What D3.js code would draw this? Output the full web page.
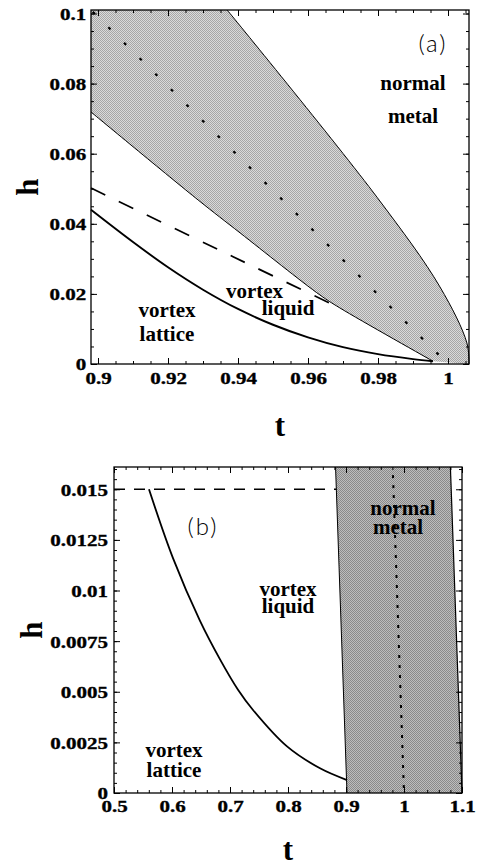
<!DOCTYPE html>
<html>
<head>
<meta charset="utf-8">
<script src="https://cdn.jsdelivr.net/npm/d3@7"></script>
<style>
    body { margin: 0; background: #fff; }
    .ticklabel { font-family: "Liberation Serif", "Times New Roman", serif; font-weight: bold; font-size: 17.5px; fill: #000; stroke: #000; stroke-width: 0.35px; }
    .region { font-family: "Liberation Serif", "Times New Roman", serif; font-weight: bold; font-size: 21px; fill: #000; }
    .axislabel { font-family: "Liberation Serif", "Times New Roman", serif; font-weight: bold; font-size: 31px; fill: #000; }
    .panel { font-family: "Lato", "DejaVu Sans", sans-serif; font-weight: 300; font-size: 24px; letter-spacing: 2px; fill: #000; }
</style>
</head>
<body>
<div id="chart"></div>
<script>
// ---- panel (a) data ----
let aXTicks = [0.9, 0.92, 0.94, 0.96, 0.98, 1];
let aXTickLabels = ['0.9', '0.92', '0.94', '0.96', '0.98', '1'];
let aYTicks = [0, 0.02, 0.04, 0.06, 0.08, 0.1];
let aYTickLabels = ['0', '0.02', '0.04', '0.06', '0.08', '0.1'];

let aMelting = [[0.898, 0.0440], [0.91, 0.0348], [0.92, 0.0276], [0.93, 0.0212], [0.94, 0.0157],
    [0.95, 0.0112], [0.96, 0.0076], [0.97, 0.0048], [0.98, 0.0028], [0.99, 0.0014], [0.9957, 0.0008]];
let aDashed = [[0.898, 0.0502], [0.9386, 0.0306], [0.9691, 0.0160]];
let aDotted = [[0.8985, 0.1005], [1.0, 0.0]];
let aShadeLower = [[0.898, 0.0719], [0.9286, 0.0468], [0.9406, 0.0374], [0.9634, 0.0197], [0.9691, 0.0160], [0.9957, 0.0008]];
let aShadeUpper = [[0.9369, 0.101], [0.9797, 0.0476], [0.9977, 0.0220], [1.0054, 0.0060], [1.006, 0]];

let aLabels = [
    {text: 'normal', t: 0.990, h: 0.0782},
    {text: 'metal', t: 0.990, h: 0.0688},
    {text: 'vortex', t: 0.9197, h: 0.0134},
    {text: 'lattice', t: 0.9197, h: 0.0066},
    {text: 'vortex', t: 0.9447, h: 0.0188},
    {text: 'liquid', t: 0.9543, h: 0.0140}
];

// ---- panel (b) data ----
let bXTicks = [0.5, 0.6, 0.7, 0.8, 0.9, 1, 1.1];
let bXTickLabels = ['0.5', '0.6', '0.7', '0.8', '0.9', '1', '1.1'];
let bYTicks = [0, 0.0025, 0.005, 0.0075, 0.01, 0.0125, 0.015];
let bYTickLabels = ['0', '0.0025', '0.005', '0.0075', '0.01', '0.0125', '0.015'];

let bMelting = [[0.5603, 0.0150], [0.6017, 0.0116], [0.6483, 0.0085], [0.6828, 0.0066], [0.7138, 0.0051],
    [0.7397, 0.0041], [0.7983, 0.0023], [0.8552, 0.00122], [0.9017, 0.00064]];
let bDashed = [[0.5, 0.015], [0.8833, 0.015]];
let bDotted = [[0.981, 0.0157], [1.0, 0]];
let bShadeLeft = [[0.9017, 0], [0.882, 0.0161]];
let bShadeRight = [[1.1, 0], [1.080, 0.0161]];

let bLabels = [
    {text: 'normal', t: 0.9983, h: 0.01373},
    {text: 'metal', t: 0.9897, h: 0.01279},
    {text: 'vortex', t: 0.80, h: 0.00973},
    {text: 'liquid', t: 0.80, h: 0.00889},
    {text: 'vortex', t: 0.6034, h: 0.00178},
    {text: 'lattice', t: 0.6034, h: 0.00079}
];

// ---- layout ----
let panelA = {left: 91, right: 469, top: 10, bottom: 364, xDomain: [0.898, 1.006], yDomain: [0, 0.101],
    xMinorStep: 0.005, yMinorStep: 0.005, xPad: 8, yPad: 4, hGap: 53, tGap: 72,
    name: '(a)', nameAt: [0.9957, 0.089]};
let panelB = {left: 114, right: 462, top: 467, bottom: 793, xDomain: [0.5, 1.1], yDomain: [0, 0.0161],
    xMinorStep: 0.02, yMinorStep: 0.0005, xPad: 7, yPad: 5, hGap: 72, tGap: 67,
    name: '(b)', nameAt: [0.6534, 0.01274]};

let svg = d3.select('#chart').append('svg')
    .attr('width', 479)
    .attr('height', 867);

let defs = svg.append('defs');

function addChecker(id, light, dark) {
    let p = defs.append('pattern')
        .attr('id', id)
        .attr('width', 2)
        .attr('height', 2)
        .attr('patternUnits', 'userSpaceOnUse');
    p.append('rect').attr('width', 2).attr('height', 2).attr('fill', light);
    p.append('rect').attr('width', 1).attr('height', 1).attr('fill', dark);
    p.append('rect').attr('x', 1).attr('y', 1).attr('width', 1).attr('height', 1).attr('fill', dark);
}
addChecker('shadeA', '#dadada', '#a6a6a6');
addChecker('shadeB', '#bdbdbd', '#8a8a8a');

function scales(p) {
    let x = d3.scaleLinear().domain(p.xDomain).range([p.left, p.right]);
    let y = d3.scaleLinear().domain(p.yDomain).range([p.bottom, p.top]);
    return {x: x, y: y};
}

function drawAxes(p, s, xTicks, xLabels, yTicks, yLabels) {
    let x = s.x, y = s.y;
    let xMinor = d3.range(p.xDomain[0] - p.xDomain[0] % p.xMinorStep, p.xDomain[1] + 1e-9, p.xMinorStep)
        .filter(function(d) { return d >= p.xDomain[0] - 1e-9; });
    let yMinor = d3.range(0, p.yDomain[1] + 1e-9, p.yMinorStep);

    let g = svg.append('g');

    // minor ticks on all four sides
    g.append('g').attr('transform', 'translate(0,' + p.bottom + ')')
        .call(d3.axisBottom(x).tickValues(xMinor).tickSize(-3).tickFormat(''));
    g.append('g').attr('transform', 'translate(0,' + p.top + ')')
        .call(d3.axisTop(x).tickValues(xMinor).tickSize(-3).tickFormat(''));
    g.append('g').attr('transform', 'translate(' + p.left + ',0)')
        .call(d3.axisLeft(y).tickValues(yMinor).tickSize(-3).tickFormat(''));
    g.append('g').attr('transform', 'translate(' + p.right + ',0)')
        .call(d3.axisRight(y).tickValues(yMinor).tickSize(-3).tickFormat(''));

    // major ticks
    let bottom = g.append('g').attr('transform', 'translate(0,' + p.bottom + ')')
        .call(d3.axisBottom(x).tickValues(xTicks).tickSize(-6).tickPadding(p.xPad)
            .tickFormat(function(d, i) { return xLabels[i]; }));
    g.append('g').attr('transform', 'translate(0,' + p.top + ')')
        .call(d3.axisTop(x).tickValues(xTicks).tickSize(-6).tickFormat(''));
    let left = g.append('g').attr('transform', 'translate(' + p.left + ',0)')
        .call(d3.axisLeft(y).tickValues(yTicks).tickSize(-6).tickPadding(p.yPad)
            .tickFormat(function(d, i) { return yLabels[i]; }));
    g.append('g').attr('transform', 'translate(' + p.right + ',0)')
        .call(d3.axisRight(y).tickValues(yTicks).tickSize(-6).tickFormat(''));

    g.selectAll('.domain').remove();
    g.selectAll('.tick line').attr('stroke', '#000').attr('stroke-width', 1);

    bottom.selectAll('text').attr('class', 'ticklabel').attr('transform', 'scale(1.2,1)');
    left.selectAll('text').attr('class', 'ticklabel').attr('dy', '0.34em').attr('transform', 'scale(1.2,1)');

    // frame
    svg.append('rect')
        .attr('x', p.left)
        .attr('y', p.top)
        .attr('width', p.right - p.left)
        .attr('height', p.bottom - p.top)
        .attr('fill', 'none')
        .attr('stroke', '#000')
        .attr('stroke-width', 1.3);
}

function drawLabels(p, s, labels) {
    svg.append('g').selectAll('text.region')
        .data(labels)
        .enter().append('text')
        .attr('class', 'region')
        .attr('x', function(d) { return s.x(d.t); })
        .attr('y', function(d) { return s.y(d.h); })
        .attr('text-anchor', 'middle')
        .text(function(d) { return d.text; });

    svg.append('text')
        .attr('class', 'panel')
        .attr('x', s.x(p.nameAt[0]))
        .attr('y', s.y(p.nameAt[1]))
        .attr('text-anchor', 'middle')
        .text(p.name);

    svg.append('text')
        .attr('class', 'axislabel')
        .attr('x', (p.left + p.right) / 2)
        .attr('y', p.bottom + p.tGap)
        .attr('text-anchor', 'middle')
        .text('t');

    svg.append('text')
        .attr('class', 'axislabel')
        .attr('transform', 'translate(' + (p.left - p.hGap) + ',' + (p.top + p.bottom) / 2 + ') rotate(-90)')
        .attr('text-anchor', 'middle')
        .text('h');
}

function curve(s) {
    return d3.line()
        .x(function(d) { return s.x(d[0]); })
        .y(function(d) { return s.y(d[1]); })
        .curve(d3.curveCatmullRom.alpha(0.5));
}

// ---- panel (a) ----
let sa = scales(panelA);
let lineA = curve(sa);

let shadeA = 'M' + sa.x(panelA.xDomain[0]) + ',' + sa.y(panelA.yDomain[1])
    + lineA(aShadeUpper).replace('M', 'L')
    + lineA(aShadeLower.slice().reverse()).replace('M', 'L') + 'Z';

svg.append('path')
    .attr('d', shadeA)
    .attr('fill', 'url(#shadeA)');

svg.append('path').attr('d', lineA(aShadeUpper)).attr('fill', 'none').attr('stroke', '#000').attr('stroke-width', 1);
svg.append('path').attr('d', lineA(aShadeLower)).attr('fill', 'none').attr('stroke', '#000').attr('stroke-width', 1);

svg.append('path')
    .attr('d', lineA(aDotted))
    .attr('fill', 'none')
    .attr('stroke', '#000')
    .attr('stroke-width', 2.2)
    .attr('stroke-dasharray', '3,19');

svg.append('path')
    .attr('d', lineA(aDashed))
    .attr('fill', 'none')
    .attr('stroke', '#000')
    .attr('stroke-width', 1.7)
    .attr('stroke-dasharray', '16,15');

svg.append('path')
    .attr('d', lineA(aMelting))
    .attr('fill', 'none')
    .attr('stroke', '#000')
    .attr('stroke-width', 1.9);

drawAxes(panelA, sa, aXTicks, aXTickLabels, aYTicks, aYTickLabels);
drawLabels(panelA, sa, aLabels);

// ---- panel (b) ----
let sb = scales(panelB);
let lineB = curve(sb);

let shadeB = lineB(bShadeLeft) + lineB(bShadeRight.slice().reverse()).replace('M', 'L') + 'Z';

svg.append('path')
    .attr('d', shadeB)
    .attr('fill', 'url(#shadeB)');

svg.append('path').attr('d', lineB(bShadeLeft)).attr('fill', 'none').attr('stroke', '#000').attr('stroke-width', 1);
svg.append('path').attr('d', lineB(bShadeRight)).attr('fill', 'none').attr('stroke', '#000').attr('stroke-width', 1.2);

svg.append('path')
    .attr('d', lineB(bDotted))
    .attr('fill', 'none')
    .attr('stroke', '#000')
    .attr('stroke-width', 2)
    .attr('stroke-dasharray', '3,7');

svg.append('path')
    .attr('d', lineB(bDashed))
    .attr('fill', 'none')
    .attr('stroke', '#000')
    .attr('stroke-width', 1.5)
    .attr('stroke-dasharray', '11,9');

svg.append('path')
    .attr('d', lineB(bMelting))
    .attr('fill', 'none')
    .attr('stroke', '#000')
    .attr('stroke-width', 1.8);

drawAxes(panelB, sb, bXTicks, bXTickLabels, bYTicks, bYTickLabels);
drawLabels(panelB, sb, bLabels);
</script>
</body>
</html>
